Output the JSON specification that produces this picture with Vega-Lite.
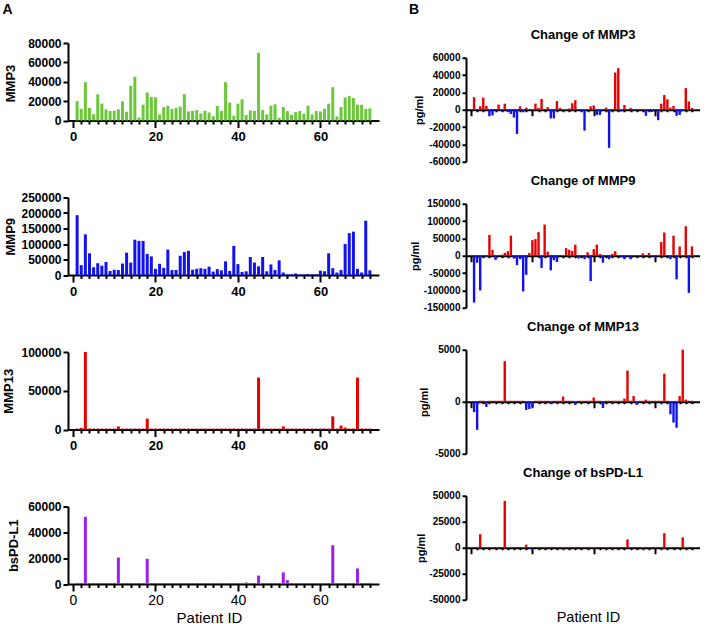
{
"$schema":"https://vega.github.io/schema/vega-lite/v6.json",
"padding":{"left":2,"top":2,"right":0,"bottom":0},
"config":{"view":{"stroke":null},"font":"Liberation Sans",
 "axis":{"domainColor":"#000","domainWidth":2,"tickColor":"#000","tickWidth":2,"labelColor":"#000","labelFont":"Liberation Sans","labelFontWeight":"bold","labelFontSize":12,"titleFont":"Liberation Sans","titleFontWeight":"bold","titleColor":"#000","titleFontSize":13,"grid":false,"titleBaseline":"middle"},
 "axisY":{"tickSize":5,"labelPadding":2}},
"datasets":{"p":[
{"id":1,"m3":20000,"m9":193000,"m13":1200,"pd":700,"c3":14500,"c9":-135000,"c13":-1000,"cpd":800},
{"id":2,"m3":12000,"m9":32000,"m13":2000,"pd":700,"c3":-1000,"c9":-20000,"c13":-2700,"cpd":800},
{"id":3,"m3":39500,"m9":131000,"m13":100000,"pd":52000,"c3":4000,"c9":-100000,"c13":100,"cpd":13000},
{"id":4,"m3":13000,"m9":70000,"m13":1200,"pd":700,"c3":14000,"c9":0,"c13":100,"cpd":800},
{"id":5,"m3":6500,"m9":25000,"m13":1200,"pd":700,"c3":4500,"c9":-3000,"c13":-500,"cpd":800},
{"id":6,"m3":27000,"m9":38000,"m13":1200,"pd":700,"c3":-7500,"c9":60000,"c13":100,"cpd":800},
{"id":7,"m3":17500,"m9":30000,"m13":1200,"pd":700,"c3":-6500,"c9":17000,"c13":100,"cpd":800},
{"id":8,"m3":11500,"m9":42000,"m13":1200,"pd":700,"c3":-1000,"c9":-12000,"c13":100,"cpd":800},
{"id":9,"m3":9700,"m9":13000,"m13":1200,"pd":700,"c3":6000,"c9":2000,"c13":100,"cpd":800},
{"id":10,"m3":10000,"m9":17000,"m13":1200,"pd":700,"c3":-1000,"c9":3000,"c13":100,"cpd":800},
{"id":11,"m3":11500,"m9":16000,"m13":4000,"pd":20500,"c3":7000,"c9":8000,"c13":3900,"cpd":45000},
{"id":12,"m3":19800,"m9":37000,"m13":1200,"pd":700,"c3":-2500,"c9":13000,"c13":100,"cpd":800},
{"id":13,"m3":9000,"m9":72000,"m13":1200,"pd":700,"c3":-5000,"c9":58000,"c13":100,"cpd":800},
{"id":14,"m3":35800,"m9":40000,"m13":1200,"pd":700,"c3":-9000,"c9":-8000,"c13":100,"cpd":800},
{"id":15,"m3":45200,"m9":114000,"m13":1200,"pd":700,"c3":-28000,"c9":-27000,"c13":100,"cpd":800},
{"id":16,"m3":3000,"m9":110000,"m13":1200,"pd":700,"c3":4000,"c9":-10000,"c13":100,"cpd":800},
{"id":17,"m3":16300,"m9":110000,"m13":1200,"pd":700,"c3":-3000,"c9":-103000,"c13":100,"cpd":800},
{"id":18,"m3":28900,"m9":68000,"m13":14000,"pd":19500,"c3":2500,"c9":-55000,"c13":-800,"cpd":3000},
{"id":19,"m3":24300,"m9":60000,"m13":1200,"pd":700,"c3":500,"c9":8000,"c13":-700,"cpd":-800},
{"id":20,"m3":24000,"m9":20000,"m13":1200,"pd":700,"c3":-500,"c9":45000,"c13":-500,"cpd":800},
{"id":21,"m3":6300,"m9":36000,"m13":1200,"pd":700,"c3":7000,"c9":48000,"c13":100,"cpd":800},
{"id":22,"m3":13900,"m9":23000,"m13":1200,"pd":700,"c3":2000,"c9":68000,"c13":100,"cpd":800},
{"id":23,"m3":15300,"m9":82000,"m13":1200,"pd":700,"c3":12500,"c9":-35000,"c13":100,"cpd":800},
{"id":24,"m3":11800,"m9":16000,"m13":1200,"pd":700,"c3":1000,"c9":90000,"c13":100,"cpd":800},
{"id":25,"m3":13200,"m9":16000,"m13":1200,"pd":700,"c3":3000,"c9":12000,"c13":100,"cpd":800},
{"id":26,"m3":14300,"m9":62000,"m13":1200,"pd":700,"c3":-10000,"c9":-42000,"c13":-200,"cpd":800},
{"id":27,"m3":27100,"m9":74000,"m13":1200,"pd":700,"c3":-10000,"c9":-13000,"c13":100,"cpd":800},
{"id":28,"m3":9400,"m9":78000,"m13":1200,"pd":700,"c3":10000,"c9":-18000,"c13":100,"cpd":800},
{"id":29,"m3":10000,"m9":17000,"m13":1200,"pd":700,"c3":2000,"c9":500,"c13":100,"cpd":800},
{"id":30,"m3":10800,"m9":20000,"m13":1200,"pd":700,"c3":500,"c9":2000,"c13":500,"cpd":800},
{"id":31,"m3":7300,"m9":22000,"m13":1200,"pd":700,"c3":500,"c9":22000,"c13":100,"cpd":800},
{"id":32,"m3":10000,"m9":20000,"m13":1200,"pd":700,"c3":1500,"c9":17000,"c13":100,"cpd":800},
{"id":33,"m3":8300,"m9":27000,"m13":1200,"pd":700,"c3":7500,"c9":14000,"c13":100,"cpd":800},
{"id":34,"m3":4500,"m9":11000,"m13":1200,"pd":700,"c3":11000,"c9":32000,"c13":-300,"cpd":800},
{"id":35,"m3":15000,"m9":19000,"m13":1200,"pd":700,"c3":300,"c9":-8000,"c13":100,"cpd":800},
{"id":36,"m3":10000,"m9":15000,"m13":1200,"pd":700,"c3":-2000,"c9":2000,"c13":100,"cpd":800},
{"id":37,"m3":39600,"m9":44000,"m13":1200,"pd":700,"c3":-24000,"c9":-10000,"c13":100,"cpd":800},
{"id":38,"m3":18400,"m9":13000,"m13":1200,"pd":700,"c3":300,"c9":10000,"c13":100,"cpd":800},
{"id":39,"m3":4900,"m9":94000,"m13":1200,"pd":700,"c3":4000,"c9":-73000,"c13":100,"cpd":800},
{"id":40,"m3":17400,"m9":35000,"m13":1200,"pd":700,"c3":5000,"c9":19000,"c13":400,"cpd":800},
{"id":41,"m3":21900,"m9":10000,"m13":1200,"pd":700,"c3":-6000,"c9":32000,"c13":100,"cpd":800},
{"id":42,"m3":5600,"m9":12000,"m13":1200,"pd":1200,"c3":-6000,"c9":5000,"c13":100,"cpd":800},
{"id":43,"m3":10400,"m9":58000,"m13":1200,"pd":700,"c3":300,"c9":-20000,"c13":-600,"cpd":800},
{"id":44,"m3":10000,"m9":40000,"m13":1200,"pd":700,"c3":2500,"c9":2000,"c13":100,"cpd":800},
{"id":45,"m3":69900,"m9":28000,"m13":67000,"pd":6500,"c3":-44000,"c9":-10000,"c13":100,"cpd":800},
{"id":46,"m3":10800,"m9":58000,"m13":1200,"pd":700,"c3":500,"c9":5000,"c13":100,"cpd":800},
{"id":47,"m3":6300,"m9":12000,"m13":1200,"pd":700,"c3":43000,"c9":13000,"c13":100,"cpd":800},
{"id":48,"m3":15300,"m9":34000,"m13":1200,"pd":700,"c3":48000,"c9":2000,"c13":100,"cpd":800},
{"id":49,"m3":16700,"m9":16000,"m13":1200,"pd":700,"c3":-2000,"c9":-5000,"c13":100,"cpd":800},
{"id":50,"m3":2800,"m9":47000,"m13":1200,"pd":700,"c3":5500,"c9":-10000,"c13":300,"cpd":800},
{"id":51,"m3":13900,"m9":8000,"m13":4000,"pd":9000,"c3":500,"c9":2000,"c13":3000,"cpd":8000},
{"id":52,"m3":9700,"m9":2000,"m13":1200,"pd":3000,"c3":2000,"c9":-10000,"c13":100,"cpd":-800},
{"id":53,"m3":5900,"m9":2000,"m13":1200,"pd":700,"c3":-500,"c9":2000,"c13":550,"cpd":800},
{"id":54,"m3":8700,"m9":5000,"m13":1200,"pd":700,"c3":1000,"c9":2000,"c13":-300,"cpd":800},
{"id":55,"m3":9700,"m9":1000,"m13":1200,"pd":700,"c3":1000,"c9":-2000,"c13":100,"cpd":800},
{"id":56,"m3":7000,"m9":2000,"m13":1200,"pd":700,"c3":1000,"c9":7000,"c13":100,"cpd":800},
{"id":57,"m3":15300,"m9":3000,"m13":1200,"pd":700,"c3":-7000,"c9":2000,"c13":200,"cpd":800},
{"id":58,"m3":6300,"m9":2000,"m13":1200,"pd":700,"c3":500,"c9":8000,"c13":100,"cpd":800},
{"id":59,"m3":9700,"m9":2000,"m13":1200,"pd":700,"c3":-2500,"c9":2000,"c13":100,"cpd":800},
{"id":60,"m3":9400,"m9":14000,"m13":1200,"pd":700,"c3":300,"c9":-3000,"c13":100,"cpd":800},
{"id":61,"m3":12200,"m9":12000,"m13":1200,"pd":700,"c3":-12000,"c9":2000,"c13":100,"cpd":800},
{"id":62,"m3":17400,"m9":70000,"m13":1200,"pd":700,"c3":7000,"c9":40000,"c13":100,"cpd":800},
{"id":63,"m3":34400,"m9":22000,"m13":17000,"pd":30000,"c3":17000,"c9":67000,"c13":2700,"cpd":14000},
{"id":64,"m3":4200,"m9":8000,"m13":1200,"pd":700,"c3":12000,"c9":2000,"c13":100,"cpd":800},
{"id":65,"m3":13900,"m9":16000,"m13":5000,"pd":700,"c3":2500,"c9":-10000,"c13":-1200,"cpd":800},
{"id":66,"m3":23700,"m9":100000,"m13":2500,"pd":700,"c3":4500,"c9":58000,"c13":-2000,"cpd":800},
{"id":67,"m3":25400,"m9":135000,"m13":1200,"pd":700,"c3":-7000,"c9":-68000,"c13":-2500,"cpd":800},
{"id":68,"m3":23300,"m9":140000,"m13":1200,"pd":700,"c3":-6000,"c9":27000,"c13":550,"cpd":800},
{"id":69,"m3":16300,"m9":20000,"m13":67000,"pd":12000,"c3":-1500,"c9":2000,"c13":5000,"cpd":10000},
{"id":70,"m3":16300,"m9":8000,"m13":1200,"pd":700,"c3":25000,"c9":85000,"c13":200,"cpd":800},
{"id":71,"m3":12000,"m9":175000,"m13":1200,"pd":700,"c3":9500,"c9":-107000,"c13":100,"cpd":800},
{"id":72,"m3":12500,"m9":15000,"m13":1200,"pd":700,"c3":2000,"c9":27000,"c13":100,"cpd":800}
]},
"spacing":29,
"center":true,
"hconcat":[
{"title":{"text":"A","anchor":"start","fontSize":14,"fontWeight":"bold","baseline":"alphabetic","offset":9},
 "spacing":76.5,"bounds":"flush",
 "vconcat":[
 {"data":{"name":"p"},"width":311,"height":77.5,
  "mark":{"type":"bar","width":3,"color":"#6cc83b"},
  "encoding":{
   "x":{"field":"id","type":"quantitative","scale":{"domain":[0,73],"nice":false,"zero":false},
    "axis":{"values":[0,2,4,6,8,10,12,14,16,18,20,22,24,26,28,30,32,34,36,38,40,42,44,46,48,50,52,54,56,58,60,62,64,66,68,70,72],"labelExpr":"datum.value % 20 === 0 ? datum.label : ''","tickSize":{"condition":{"test":"datum.value % 20 === 0","value":7},"value":3.5},"labelFontSize":13,"labelPadding":3,"title":null,"labelOverlap":false,"labelFlush":false}},
   "y":{"field":"m3","type":"quantitative","stack":null,"scale":{"domain":[0,80000],"nice":false},
    "axis":{"values":[0,20000,40000,60000,80000],"labelExpr":"''+datum.value","title":"MMP3","titleX":-57.7,"titleY":40}}}},
 {"data":{"name":"p"},"width":311,"height":77.5,
  "mark":{"type":"bar","width":3,"color":"#1212f0"},
  "encoding":{
   "x":{"field":"id","type":"quantitative","scale":{"domain":[0,73],"nice":false,"zero":false},
    "axis":{"values":[0,2,4,6,8,10,12,14,16,18,20,22,24,26,28,30,32,34,36,38,40,42,44,46,48,50,52,54,56,58,60,62,64,66,68,70,72],"labelExpr":"datum.value % 20 === 0 ? datum.label : ''","tickSize":{"condition":{"test":"datum.value % 20 === 0","value":7},"value":3.5},"labelFontSize":13,"labelPadding":3,"title":null,"labelOverlap":false,"labelFlush":false}},
   "y":{"field":"m9","type":"quantitative","stack":null,"scale":{"domain":[0,250000],"nice":false},
    "axis":{"values":[0,50000,100000,150000,200000,250000],"labelExpr":"''+datum.value","title":"MMP9","titleX":-57.7,"titleY":38.75}}}},
 {"data":{"name":"p"},"width":311,"height":77.5,
  "mark":{"type":"bar","width":3,"color":"#e60000"},
  "encoding":{
   "x":{"field":"id","type":"quantitative","scale":{"domain":[0,73],"nice":false,"zero":false},
    "axis":{"values":[0,2,4,6,8,10,12,14,16,18,20,22,24,26,28,30,32,34,36,38,40,42,44,46,48,50,52,54,56,58,60,62,64,66,68,70,72],"labelExpr":"datum.value % 20 === 0 ? datum.label : ''","tickSize":{"condition":{"test":"datum.value % 20 === 0","value":7},"value":3.5},"labelFontSize":13,"labelPadding":3,"title":null,"labelOverlap":false,"labelFlush":false}},
   "y":{"field":"m13","type":"quantitative","stack":null,"scale":{"domain":[0,100000],"nice":false},
    "axis":{"values":[0,50000,100000],"labelExpr":"''+datum.value","title":"MMP13","titleX":-59.4,"titleY":38.75}}}},
 {"data":{"name":"p"},"width":311,"height":77.5,
  "mark":{"type":"bar","width":3,"color":"#9b1fe8"},
  "encoding":{
   "x":{"field":"id","type":"quantitative","scale":{"domain":[0,73],"nice":false,"zero":false},
    "axis":{"values":[0,2,4,6,8,10,12,14,16,18,20,22,24,26,28,30,32,34,36,38,40,42,44,46,48,50,52,54,56,58,60,62,64,66,68,70,72],"labelExpr":"datum.value % 20 === 0 ? datum.label : ''","tickSize":{"condition":{"test":"datum.value % 20 === 0","value":7},"value":3.5},"labelFontSize":14,"labelFontWeight":"normal","labelPadding":2,"title":["Patient ID"," "],"titleLineHeight":14,"titleFontWeight":"normal","titleFontSize":15,"titleX":141,"titleY":33,"labelOverlap":false,"labelFlush":false}},
   "y":{"field":"pd","type":"quantitative","stack":null,"scale":{"domain":[0,60000],"nice":false},
    "axis":{"values":[0,20000,40000,60000],"labelExpr":"''+datum.value","title":"bsPD-L1","titleX":-54.4,"titleY":38.75}}}}
 ]},
{"title":{"text":"B","anchor":"start","fontSize":14,"fontWeight":"bold","baseline":"alphabetic","offset":1},
 "spacing":42,"bounds":"flush",
 "vconcat":[
 {"data":{"name":"p"},"width":234,"height":104,
  "title":{"text":"Change of MMP3","fontSize":13,"fontWeight":"bold","anchor":"middle","baseline":"alphabetic","offset":1},
  "mark":{"type":"bar","width":2.4},
  "encoding":{
   "x":{"field":"id","type":"quantitative","scale":{"domain":[0,73],"nice":false,"zero":false},
    "axis":{"orient":"bottom","offset":-52,"values":[0,2,4,6,8,10,12,14,16,18,20,22,24,26,28,30,32,34,36,38,40,42,44,46,48,50,52,54,56,58,60,62,64,66,68,70,72],"labels":false,"tickSize":{"condition":{"test":"datum.value % 20 === 0","value":6},"value":2},"title":null}},
   "y":{"field":"c3","type":"quantitative","stack":null,"scale":{"domain":[-60000,60000],"nice":false},
    "axis":{"values":[-60000,-40000,-20000,0,20000,40000,60000],"labelExpr":"''+datum.value","labelFontSize":10,"tickSize":4,"title":"pg/ml","titleFontSize":11,"titleX":-47,"titleY":52}},
   "color":{"condition":{"test":"datum.c3 >= 0","value":"#e60000"},"value":"#1212f0"}}},
 {"data":{"name":"p"},"width":234,"height":104,
  "title":{"text":"Change of MMP9","fontSize":13,"fontWeight":"bold","anchor":"middle","baseline":"alphabetic","offset":1},
  "mark":{"type":"bar","width":2.4},
  "encoding":{
   "x":{"field":"id","type":"quantitative","scale":{"domain":[0,73],"nice":false,"zero":false},
    "axis":{"orient":"bottom","offset":-52,"values":[0,2,4,6,8,10,12,14,16,18,20,22,24,26,28,30,32,34,36,38,40,42,44,46,48,50,52,54,56,58,60,62,64,66,68,70,72],"labels":false,"tickSize":{"condition":{"test":"datum.value % 20 === 0","value":6},"value":2},"title":null}},
   "y":{"field":"c9","type":"quantitative","stack":null,"scale":{"domain":[-150000,150000],"nice":false},
    "axis":{"values":[-150000,-100000,-50000,0,50000,100000,150000],"labelExpr":"''+datum.value","labelFontSize":10,"tickSize":4,"title":"pg/ml","titleFontSize":11,"titleX":-51,"titleY":52}},
   "color":{"condition":{"test":"datum.c9 >= 0","value":"#e60000"},"value":"#1212f0"}}},
 {"data":{"name":"p"},"width":234,"height":104,
  "title":{"text":"Change of MMP13","fontSize":13,"fontWeight":"bold","anchor":"middle","baseline":"alphabetic","offset":1},
  "mark":{"type":"bar","width":2.4},
  "encoding":{
   "x":{"field":"id","type":"quantitative","scale":{"domain":[0,73],"nice":false,"zero":false},
    "axis":{"orient":"bottom","offset":-52,"values":[0,2,4,6,8,10,12,14,16,18,20,22,24,26,28,30,32,34,36,38,40,42,44,46,48,50,52,54,56,58,60,62,64,66,68,70,72],"labels":false,"tickSize":{"condition":{"test":"datum.value % 20 === 0","value":6},"value":2},"title":null}},
   "y":{"field":"c13","type":"quantitative","stack":null,"scale":{"domain":[-5000,5000],"nice":false},
    "axis":{"values":[-5000,0,5000],"labelExpr":"''+datum.value","labelFontSize":10,"tickSize":4,"title":"pg/ml","titleFontSize":11,"titleX":-42,"titleY":52}},
   "color":{"condition":{"test":"datum.c13 >= 0","value":"#e60000"},"value":"#1212f0"}}},
 {"data":{"name":"p"},"width":234,"height":104,
  "title":{"text":"Change of bsPD-L1","fontSize":13,"fontWeight":"bold","anchor":"middle","baseline":"alphabetic","offset":1},
  "mark":{"type":"bar","width":2.4},
  "encoding":{
   "x":{"field":"id","type":"quantitative","scale":{"domain":[0,73],"nice":false,"zero":false},
    "axis":{"orient":"bottom","offset":-52,"values":[0,2,4,6,8,10,12,14,16,18,20,22,24,26,28,30,32,34,36,38,40,42,44,46,48,50,52,54,56,58,60,62,64,66,68,70,72],"labels":false,"tickSize":{"condition":{"test":"datum.value % 20 === 0","value":6},"value":2},"title":"Patient ID","titleFontWeight":"normal","titleFontSize":14.5,"titleX":122,"titleY":70}},
   "y":{"field":"cpd","type":"quantitative","stack":null,"scale":{"domain":[-50000,50000],"nice":false},
    "axis":{"values":[-50000,-25000,0,25000,50000],"labelExpr":"''+datum.value","labelFontSize":10,"tickSize":4,"title":"pg/ml","titleFontSize":11,"titleX":-45,"titleY":52}},
   "color":{"condition":{"test":"datum.cpd >= 0","value":"#e60000"},"value":"#1212f0"}}}
 ]}
]}
